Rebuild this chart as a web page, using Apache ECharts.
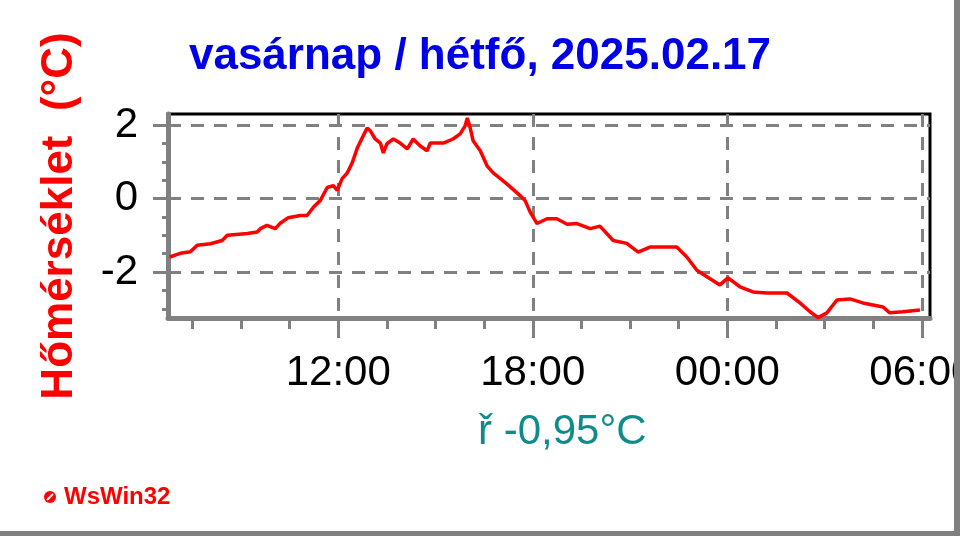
<!DOCTYPE html>
<html>
<head>
<meta charset="utf-8">
<script src="https://cdn.jsdelivr.net/npm/echarts@6/dist/echarts.min.js"></script>
<style>html,body{margin:0;padding:0;background:#fff}#c{width:960px;height:536px}</style>
</head>
<body>
<div id="c"></div>
<script>
// Hours since start of Sunday (values > 24 are Monday)
var hours = [6.80, 7.13, 7.44, 7.65, 8.06, 8.42, 8.58, 9.2, 9.5, 9.6, 9.8, 10.06, 10.2, 10.46, 10.83, 11.04, 11.24, 11.45, 11.66, 11.85, 11.97, 12.12, 12.28, 12.43, 12.59, 12.74, 12.89, 12.99, 13.14, 13.3, 13.39, 13.5, 13.7, 13.91, 14.13, 14.31, 14.53, 14.74, 14.84, 15.24, 15.54, 15.76, 15.91, 15.98, 16.07, 16.16, 16.38, 16.59, 16.78, 17.2, 17.61, 17.76, 17.92, 18.13, 18.44, 18.74, 19.06, 19.36, 19.77, 20.07, 20.48, 20.9, 21.25, 21.61, 22.02, 22.44, 22.75, 23.06, 23.37, 23.77, 24.02, 24.39, 24.79, 25.22, 25.84, 26.24, 26.55, 26.8, 27.07, 27.38, 27.78, 28.18, 28.8, 29.01, 29.41, 29.94];
var temps = [-1.59, -1.49, -1.45, -1.27, -1.23, -1.14, -1.0, -0.95, -0.91, -0.82, -0.73, -0.82, -0.68, -0.52, -0.46, -0.46, -0.23, -0.05, 0.3, 0.35, 0.22, 0.54, 0.7, 0.97, 1.38, 1.65, 1.92, 1.84, 1.62, 1.51, 1.24, 1.49, 1.62, 1.51, 1.35, 1.62, 1.43, 1.3, 1.51, 1.51, 1.62, 1.76, 1.97, 2.19, 1.92, 1.57, 1.3, 0.89, 0.7, 0.4, 0.08, -0.05, -0.37, -0.68, -0.55, -0.55, -0.7, -0.68, -0.82, -0.75, -1.14, -1.22, -1.46, -1.32, -1.32, -1.32, -1.59, -1.95, -2.13, -2.35, -2.16, -2.4, -2.54, -2.57, -2.57, -2.84, -3.08, -3.24, -3.11, -2.76, -2.73, -2.84, -2.95, -3.11, -3.08, -3.03];
var xMajorTicks = [12, 18, 24, 30];
var xMinorTicks = [7.5, 9, 10.5, 13.5, 15, 16.5, 19.5, 21, 22.5, 25.5, 27, 28.5];
var yMajorTicks = [-2, 0, 2];
var yMinorTicks = [-3, -2.5, -1.5, -1, -0.5, 0.5, 1, 1.5];
var titleText = 'vasárnap / hétfő, 2025.02.17';
var yName = 'Hőmérséklet  (°C)';
var avgText = 'ř -0,95°C';
var brandText = 'WsWin32';

var seriesData = hours.map(function (h, i) { return [h, temps[i]]; });
var X_MIN = 6.75, X_MAX = 30.25, Y_MIN = -3.25, Y_MAX = 2.3;
var gridDash = { color: '#808080', width: 3, type: [13, 10] };

var chart = echarts.init(document.getElementById('c'), null, { renderer: 'canvas' });
chart.setOption({
  animation: false,
  backgroundColor: '#ffffff',
  title: {
    text: titleText, left: 'center', top: 30,
    textStyle: { color: '#0000e6', fontFamily: 'Liberation Sans', fontWeight: 'bold', fontSize: 44 }
  },
  grid: { left: 168, right: 30, top: 114, bottom: 218, outerBoundsMode: 'none', containLabel: false,
          show: true, borderColor: '#000', borderWidth: 3, backgroundColor: 'transparent' },
  xAxis: [{
    type: 'value', min: X_MIN, max: X_MAX, position: 'bottom',
    axisLine: { onZero: false, lineStyle: { color: '#808080', width: 5 } },
    axisTick: { customValues: xMajorTicks, length: 20, lineStyle: { color: '#808080', width: 3 } },
    axisLabel: {
      customValues: xMajorTicks, margin: 34, color: '#000', fontFamily: 'Liberation Sans', fontSize: 42,
      hideOverlap: false,
      formatter: function (v) { var h = Math.round(v) % 24; return (h < 10 ? '0' : '') + h + ':00'; }
    },
    splitLine: { show: true, lineStyle: gridDash }
  }, {
    type: 'value', min: X_MIN, max: X_MAX, position: 'bottom',
    axisLine: { show: false, onZero: false },
    axisTick: { customValues: xMinorTicks, length: 11, lineStyle: { color: '#808080', width: 3 } },
    axisLabel: { show: false },
    splitLine: { show: false }
  }],
  yAxis: [{
    type: 'value', min: Y_MIN, max: Y_MAX, position: 'left',
    name: yName, nameLocation: 'middle', nameGap: 86, nameRotate: 90,
    nameTextStyle: { color: '#ff0000', fontFamily: 'Liberation Sans', fontWeight: 'bold', fontSize: 44 },
    axisLine: { onZero: false, lineStyle: { color: '#808080', width: 5 } },
    axisTick: { customValues: yMajorTicks, length: 15, lineStyle: { color: '#808080', width: 3 } },
    axisLabel: { customValues: yMajorTicks, margin: 30, color: '#000', fontFamily: 'Liberation Sans', fontSize: 42 },
    splitLine: { show: true, lineStyle: gridDash }
  }, {
    type: 'value', min: Y_MIN, max: Y_MAX, position: 'left',
    axisLine: { show: false, onZero: false },
    axisTick: { customValues: yMinorTicks, length: 6, lineStyle: { color: '#808080', width: 3 } },
    axisLabel: { show: false },
    splitLine: { show: false }
  }],
  series: [{
    type: 'line', xAxisIndex: 0, yAxisIndex: 0, data: seriesData,
    showSymbol: false, symbol: 'none',
    lineStyle: { color: '#ff0000', width: 3.5 }
  }],
  graphic: [
    { type: 'text', left: 563 - 85, top: 411, z: 50,
      style: { text: avgText, fill: '#108a8a', font: '42px "Liberation Sans"' } },
    { type: 'circle', shape: { cx: 50, cy: 497, r: 6 }, z: 50, style: { fill: '#ff0000' } },
    { type: 'line', shape: { x1: 47, y1: 500, x2: 53, y2: 494 }, z: 51, style: { stroke: '#ffffff', lineWidth: 2 } },
    { type: 'text', left: 64, top: 485, z: 50,
      style: { text: brandText, fill: '#ff0000', font: 'bold 24px "Liberation Sans"' } },
    { type: 'rect', shape: { x: 954, y: 0, width: 6, height: 536 }, z: 100, style: { fill: '#7f7f7f' } },
    { type: 'rect', shape: { x: 0, y: 531, width: 960, height: 5 }, z: 100, style: { fill: '#7f7f7f' } }
  ]
});
</script>
</body>
</html>
